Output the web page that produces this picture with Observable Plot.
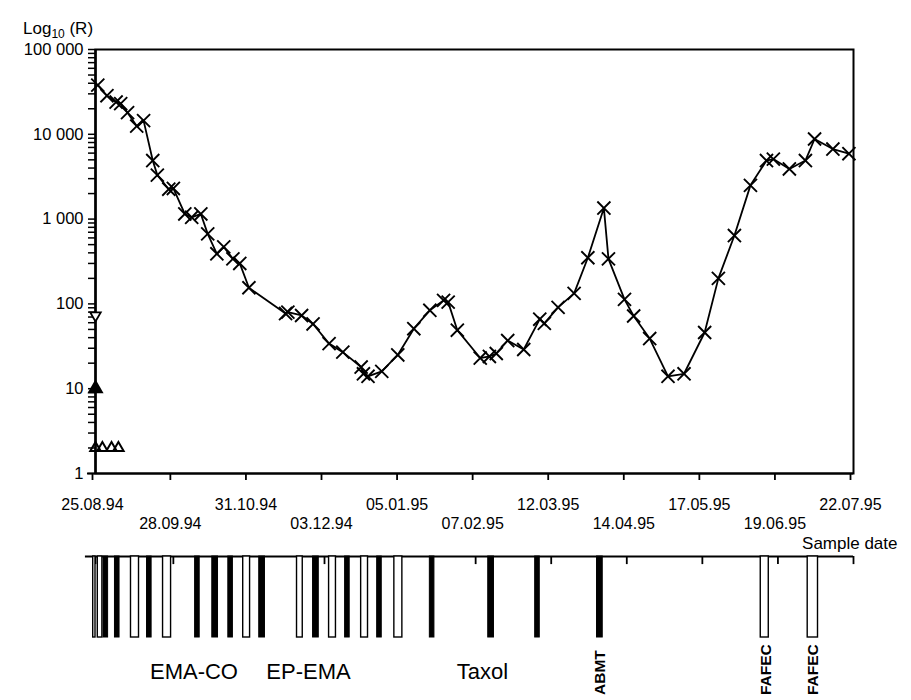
<!DOCTYPE html>
<html><head><meta charset="utf-8">
<script src="https://cdn.jsdelivr.net/npm/d3@7"></script>
<script src="https://cdn.jsdelivr.net/npm/@observablehq/plot@0.6"></script>
<style>
body{margin:0;background:#fff;}
#wrap{position:relative;width:911px;height:700px;background:#fff;font-family:"Liberation Sans",Arial,Helvetica,sans-serif;color:#000;}
#title{position:absolute;left:23px;top:20px;font-size:17px;line-height:17px;}
#title sub{font-size:12px;}
#main{position:absolute;left:0;top:0;}
#timeline{position:absolute;left:0;top:552px;}
</style></head>
<body><div id="wrap"><div id="main"></div><div id="timeline"></div><div id="title">Log<sub>10</sub> (R)</div></div>
<script>
// ---- data ----
const sampleDates = ["1994-08-26","1994-08-30","1994-09-03","1994-09-05","1994-09-08","1994-09-12","1994-09-15","1994-09-19","1994-09-21","1994-09-26","1994-09-28","1994-10-03","1994-10-06","1994-10-10","1994-10-13","1994-10-17","1994-10-20","1994-10-24","1994-10-27","1994-10-31","1994-11-16","1994-11-17","1994-11-23","1994-11-28","1994-12-05","1994-12-11","1994-12-19","1994-12-20","1994-12-22","1994-12-28","1995-01-04","1995-01-11","1995-01-18","1995-01-24","1995-01-26","1995-01-30","1995-02-09","1995-02-13","1995-02-16","1995-02-21","1995-02-28","1995-03-07","1995-03-09","1995-03-15","1995-03-22","1995-03-28","1995-04-04","1995-04-06","1995-04-13","1995-04-17","1995-04-24","1995-05-02","1995-05-09","1995-05-18","1995-05-24","1995-05-31","1995-06-07","1995-06-14","1995-06-17","1995-06-24","1995-07-01","1995-07-05","1995-07-13","1995-07-20"];
const sampleValues = [38000,28500,24000,23000,18000,12500,14500,4900,3300,2250,2300,1150,1050,1150,670,390,470,340,300,155,77,80,73,58,34,27,18,15,14,16,25,51,84,110,105,49,23,24,26,37,29,66,59,91,133,350,1350,340,113,72,39,14,15,46,200,640,2500,4900,5100,3900,4900,8800,6700,5900];

const openTriDownDates = ["1994-08-25"];
const openTriDownValues = [73];
const filledTriDates = ["1994-08-25"];
const filledTriValues = [10];
const lowTriDates = ["1994-08-25","1994-08-28","1994-09-01","1994-09-04"];
const lowTriValues = [2,2,2,2];

const tickDates = ["1994-08-25","1994-09-28","1994-10-31","1994-12-03","1995-01-05","1995-02-07","1995-03-12","1995-04-14","1995-05-17","1995-06-19","1995-07-22"];
const yMajor = [1,10,100,1000,10000,100000];

// treatment bars
const treatStart = ["1994-08-24","1994-08-26","1994-08-28T12:00Z","1994-09-02T12:00Z","1994-09-09T12:00Z","1994-09-16T12:00Z","1994-09-23T12:00Z","1994-10-07T12:00Z","1994-10-15","1994-10-22","1994-10-28T12:00Z","1994-11-04T12:00Z","1994-11-21","1994-11-28","1994-12-05","1994-12-12","1994-12-19","1994-12-26","1995-01-02T12:00Z","1995-01-18","1995-02-12T12:00Z","1995-03-05","1995-04-01","1995-06-11T12:00Z","1995-07-02"];
const treatEnd   = ["1994-08-25","1994-08-28","1994-08-30T12:00Z","1994-09-04T12:00Z","1994-09-13","1994-09-18T12:00Z","1994-09-27","1994-10-09T12:00Z","1994-10-17T12:00Z","1994-10-24","1994-10-31T12:00Z","1994-11-07","1994-11-23T12:00Z","1994-11-30T12:00Z","1994-12-08","1994-12-14","1994-12-22","1994-12-28","1995-01-06","1995-01-20","1995-02-15","1995-03-07","1995-04-03T12:00Z","1995-06-15","1995-07-06T12:00Z"];
const treatFilled = [false,false,true,true,false,true,false,true,true,true,false,true,false,true,false,true,false,true,false,true,true,true,true,false,false];

const regimenLabels = ["EMA-CO","EP-EMA","Taxol"];
const regimenDates = ["1994-10-07","1994-11-26","1995-02-10"];
const rotLabels = ["ABMT","FAFEC","FAFEC"];
const rotDates = ["1995-04-02T12:00Z","1995-06-13T18:00Z","1995-07-04T06:00Z"];

// ---- build ----
const P = s => new Date(s.length === 10 ? s + "T00:00Z" : s);
const samples = sampleDates.map((d, i) => ({date: P(d), value: sampleValues[i]}));
const triDown = openTriDownDates.map((d, i) => ({date: P(d), value: openTriDownValues[i]}));
const triFill = filledTriDates.map((d, i) => ({date: P(d), value: filledTriValues[i]}));
const triLow = lowTriDates.map((d, i) => ({date: P(d), value: lowTriValues[i]}));
const ticks = tickDates.map(P);
const upperTicks = ticks.filter((d, i) => i % 2 === 0);
const lowerTicks = ticks.filter((d, i) => i % 2 === 1);
const xDomain = [ticks[0], ticks[ticks.length - 1]];
const yTicksAll = [];
for (let k = 0; k < 5; k++) for (let m = 1; m < 10; m++) yTicksAll.push(m * 10 ** k);
yTicksAll.push(100000);
const fmtDate = d3.utcFormat("%d.%m.%y");
const fmtY = d => yMajor.includes(d) ? d3.format(",")(d).replace(/,/g, " ") : "";
const axisStart = new Date(+xDomain[0] - 3.5 * 864e5);
const lineStart = new Date(+xDomain[0] - 4.4 * 864e5);

const font = "'Liberation Sans', Arial, Helvetica, sans-serif";

const main = Plot.plot({
  width: 911, height: 552,
  marginLeft: 95, marginRight: 58, marginTop: 49, marginBottom: 79,
  x: {type: "utc", domain: xDomain},
  y: {type: "log", domain: [1, 100000]},
  style: {fontFamily: font, fontSize: "16px", color: "black", background: "white", overflow: "visible"},
  marks: [
    Plot.frame({stroke: "black", strokeWidth: 2}),
    Plot.axisY({ticks: yTicksAll, tickFormat: fmtY, tickSize: 7, tickPadding: 5, strokeWidth: 1.5, label: null, fontSize: 16.5}),
    Plot.axisX({ticks: upperTicks, tickFormat: fmtDate, tickSize: 7, tickPadding: 18, strokeWidth: 1.8, label: null, fontSize: 16, dx: -3}),
    Plot.axisX({ticks: lowerTicks, tickFormat: fmtDate, tickSize: 7, tickPadding: 37, strokeWidth: 1.8, label: null, fontSize: 16, dx: -3}),
    Plot.ruleY([1], {x1: axisStart, x2: xDomain[1], stroke: "black", strokeWidth: 2}),
    Plot.ruleX([xDomain[0]], {y1: 1, y2: 100000, stroke: "black", strokeWidth: 2.5}),
    Plot.line(samples, {x: "date", y: "value", stroke: "black", strokeWidth: 1.8}),
    Plot.dot(samples, {x: "date", y: "value", symbol: "times", r: 6, stroke: "black", strokeWidth: 1.9}),
    Plot.dot(triDown, {x: "date", y: "value", symbol: "triangle2", rotate: 180, r: 5, stroke: "black", fill: "white", strokeWidth: 1.8}),
    Plot.dot(triFill, {x: "date", y: "value", symbol: "triangle", r: 6, fill: "black"}),
    Plot.dot(triLow, {x: "date", y: "value", symbol: "triangle2", r: 5, stroke: "black", fill: "none", strokeWidth: 2}),
    Plot.text(["Sample date"], {text: d => d, frameAnchor: "bottom-right", dx: 44, dy: 75, textAnchor: "end", lineAnchor: "bottom", fontSize: 17, fill: "black"})
  ]
});
document.getElementById("main").appendChild(main);

const bars = treatStart.map((s, i) => ({start: P(s), end: P(treatEnd[i]), filled: treatFilled[i]}));
const regimen = regimenLabels.map((t, i) => ({label: t, date: P(regimenDates[i])}));
const rot = rotLabels.map((t, i) => ({label: t, date: P(rotDates[i])}));

const tl = Plot.plot({
  width: 911, height: 148,
  marginLeft: 95, marginRight: 58, marginTop: 4, marginBottom: 63,
  x: {type: "utc", domain: xDomain, axis: null},
  y: {domain: [0, 1], axis: null},
  style: {fontFamily: font, fontSize: "16px", color: "black", background: "transparent", overflow: "visible"},
  marks: [
    Plot.ruleY([1], {x1: lineStart, x2: xDomain[1], stroke: "black", strokeWidth: 1.8}),
    Plot.ruleX(ticks, {y1: 1, y2: 0.9, stroke: "black", strokeWidth: 1.8}),
    Plot.rect(bars.filter(d => !d.filled), {x1: "start", x2: "end", y1: 0, y2: 1, fill: "white", stroke: "black", strokeWidth: 1.4}),
    Plot.rect(bars.filter(d => d.filled), {x1: "start", x2: "end", y1: 0, y2: 1, fill: "black", stroke: "black", strokeWidth: 1}),
    Plot.text(regimen, {x: "date", y: -0.42, text: "label", fontSize: 22, lineAnchor: "middle", fill: "black"}),
    Plot.text(rot, {x: "date", y: -0.71, text: "label", rotate: -90, textAnchor: "start", lineAnchor: "middle", fontSize: 15.5, fontWeight: "bold", fill: "black"})
  ]
});
document.getElementById("timeline").appendChild(tl);
</script>
</body></html>
